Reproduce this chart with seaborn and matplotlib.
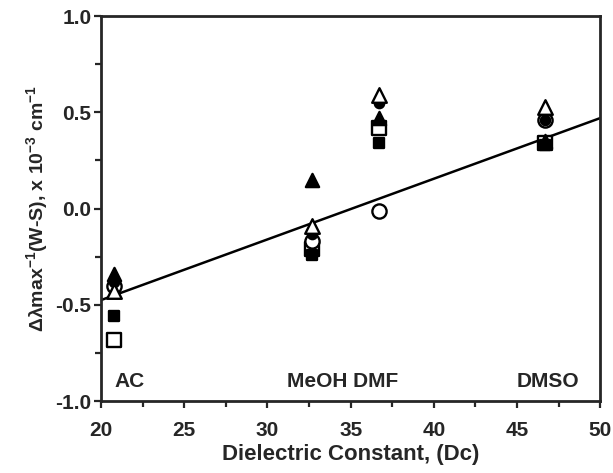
import seaborn as sns
import matplotlib.pyplot as plt
from matplotlib.ticker import MultipleLocator

# solvent dielectric constants
dc = [20.8, 32.7, 36.7, 46.7]

# six series, one value per solvent
tri_filled = [-0.34, 0.15, 0.47, 0.35]
tri_open = [-0.43, -0.09, 0.59, 0.53]
circ_filled = [-0.38, -0.13, 0.55, 0.46]
circ_open = [-0.40, -0.17, -0.01, 0.46]
sq_filled = [-0.56, -0.24, 0.34, 0.33]
sq_open = [-0.68, -0.21, 0.42, 0.34]

# regression line end points
line_x = [20, 50]
line_y = [-0.475, 0.47]

solvent_labels = ["AC", "MeOH DMF", "DMSO"]
label_x = [20.8, 31.2, 45.0]

sns.set_style("ticks")
plt.rcParams["font.family"] = ["Liberation Sans", "DejaVu Sans"]
plt.rcParams["font.weight"] = "bold"
plt.rcParams["mathtext.fontset"] = "custom"
plt.rcParams["mathtext.rm"] = "Liberation Sans:bold"
plt.rcParams["mathtext.it"] = "Liberation Sans:bold"
plt.rcParams["mathtext.bf"] = "Liberation Sans:bold"

fig, ax = plt.subplots(figsize=(6.13, 4.73), dpi=100)
fig.subplots_adjust(left=0.165, right=0.979, bottom=0.152, top=0.966)

sns.lineplot(x=line_x, y=line_y, color="black", linewidth=1.8, ax=ax)

series = [
    (sq_open, "s", "white", 105),
    (sq_filled, "s", "black", 50),
    (circ_open, "o", "white", 105),
    (tri_filled, "^", "black", 90),
    (circ_filled, "o", "black", 45),
    (tri_open, "^", "white", 110),
]
for vals, m, fc, size in series:
    sns.scatterplot(x=dc, y=vals, marker=m, s=size, color=fc,
                    edgecolor="black", linewidth=1.7, zorder=3, ax=ax)

for name, xs in zip(solvent_labels, label_x):
    ax.text(xs, -0.9, name, fontsize=15, fontweight="bold", va="center")

ax.set_xlim(20, 50)
ax.set_ylim(-1.0, 1.0)
ax.xaxis.set_major_locator(MultipleLocator(5))
ax.xaxis.set_minor_locator(MultipleLocator(2.5))
ax.yaxis.set_major_locator(MultipleLocator(0.5))
ax.yaxis.set_minor_locator(MultipleLocator(0.25))
ax.yaxis.set_major_formatter(plt.FormatStrFormatter("%.1f"))
ax.tick_params(which="both", direction="out", width=1.6, labelsize=15, pad=2)
ax.tick_params(which="major", length=5)
ax.tick_params(which="minor", length=4)
ax.tick_params(axis="x", pad=9)
for s in ax.spines.values():
    s.set_visible(True)
    s.set_linewidth(2)

ax.set_xlabel("Dielectric Constant, (Dc)", fontsize=16, fontweight="bold", labelpad=3)
ax.set_ylabel(r"Δλmax$^{-1}$(W-S), x 10$^{-3}$ cm$^{-1}$",
              fontsize=14, fontweight="bold", labelpad=4)

fig.savefig("out.png", dpi=100)
